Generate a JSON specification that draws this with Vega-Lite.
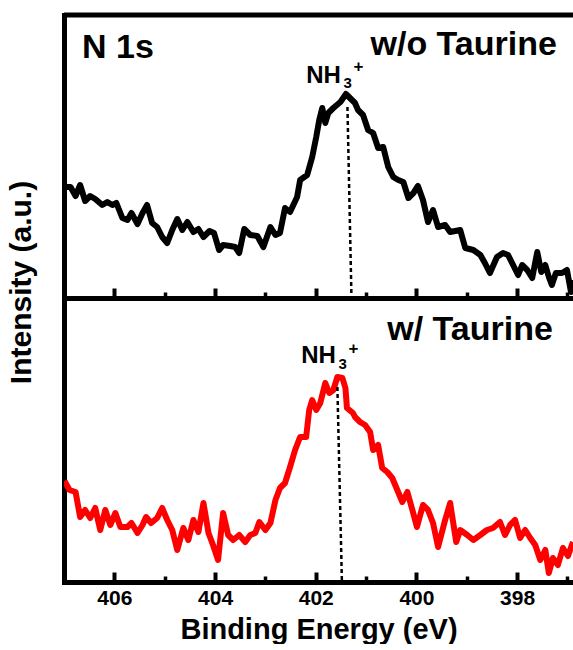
{
  "$schema": "https://vega.github.io/schema/vega-lite/v6.json",
  "padding": {"left": 6, "top": 12, "right": 0, "bottom": 0},
  "background": "white",
  "spacing": 0,
  "bounds": "flush",
  "config": {"view": {"stroke": null}, "font": "Liberation Sans"},
  "datasets": {
    "wo": [
      {"be":406.99,"i":112},{"be":406.93,"i":111},{"be":406.87,"i":111},{"be":406.77,"i":102},{"be":406.68,"i":113},{"be":406.58,"i":97},{"be":406.48,"i":102},{"be":406.38,"i":99},{"be":406.24,"i":93},{"be":406.14,"i":96},{"be":406.04,"i":93},{"be":405.96,"i":95},{"be":405.84,"i":80},{"be":405.74,"i":78},{"be":405.66,"i":85},{"be":405.54,"i":74},{"be":405.44,"i":85},{"be":405.35,"i":93},{"be":405.25,"i":75},{"be":405.15,"i":71},{"be":405.05,"i":61},{"be":404.95,"i":55},{"be":404.85,"i":68},{"be":404.75,"i":79},{"be":404.65,"i":68},{"be":404.55,"i":76},{"be":404.43,"i":66},{"be":404.33,"i":69},{"be":404.23,"i":61},{"be":404.11,"i":67},{"be":404.02,"i":65},{"be":403.92,"i":48},{"be":403.84,"i":53},{"be":403.70,"i":52},{"be":403.60,"i":51},{"be":403.52,"i":45},{"be":403.42,"i":69},{"be":403.30,"i":63},{"be":403.16,"i":62},{"be":403.04,"i":51},{"be":402.90,"i":71},{"be":402.80,"i":63},{"be":402.71,"i":65},{"be":402.61,"i":90},{"be":402.51,"i":86},{"be":402.37,"i":101},{"be":402.31,"i":118},{"be":402.17,"i":123},{"be":402.07,"i":141},{"be":401.99,"i":161},{"be":401.93,"i":178},{"be":401.87,"i":190},{"be":401.81,"i":175},{"be":401.75,"i":185},{"be":401.65,"i":190},{"be":401.51,"i":196},{"be":401.40,"i":204},{"be":401.28,"i":198},{"be":401.22,"i":195},{"be":401.16,"i":188},{"be":401.06,"i":183},{"be":400.96,"i":168},{"be":400.86,"i":165},{"be":400.76,"i":150},{"be":400.66,"i":151},{"be":400.56,"i":131},{"be":400.46,"i":121},{"be":400.36,"i":118},{"be":400.26,"i":116},{"be":400.16,"i":100},{"be":400.06,"i":105},{"be":399.97,"i":112},{"be":399.87,"i":98},{"be":399.77,"i":76},{"be":399.67,"i":88},{"be":399.57,"i":71},{"be":399.43,"i":73},{"be":399.33,"i":66},{"be":399.13,"i":68},{"be":399.03,"i":50},{"be":398.87,"i":48},{"be":398.73,"i":43},{"be":398.64,"i":35},{"be":398.54,"i":25},{"be":398.40,"i":41},{"be":398.28,"i":45},{"be":398.18,"i":43},{"be":398.08,"i":33},{"be":397.98,"i":23},{"be":397.90,"i":33},{"be":397.80,"i":28},{"be":397.70,"i":20},{"be":397.60,"i":46},{"be":397.52,"i":26},{"be":397.44,"i":33},{"be":397.37,"i":21},{"be":397.31,"i":13},{"be":397.23,"i":25},{"be":397.11,"i":25},{"be":397.01,"i":28},{"be":396.93,"i":6},{"be":396.89,"i":18}
    ],
    "w": [
      {"be":406.99,"i":101},{"be":406.89,"i":92},{"be":406.77,"i":90},{"be":406.68,"i":65},{"be":406.58,"i":72},{"be":406.48,"i":64},{"be":406.38,"i":74},{"be":406.28,"i":52},{"be":406.18,"i":72},{"be":406.08,"i":57},{"be":405.98,"i":69},{"be":405.88,"i":55},{"be":405.74,"i":55},{"be":405.66,"i":59},{"be":405.54,"i":49},{"be":405.44,"i":57},{"be":405.37,"i":65},{"be":405.27,"i":59},{"be":405.15,"i":64},{"be":405.05,"i":74},{"be":404.95,"i":62},{"be":404.85,"i":52},{"be":404.75,"i":32},{"be":404.63,"i":54},{"be":404.53,"i":42},{"be":404.43,"i":62},{"be":404.33,"i":50},{"be":404.23,"i":79},{"be":404.13,"i":49},{"be":404.04,"i":37},{"be":403.94,"i":22},{"be":403.84,"i":69},{"be":403.74,"i":47},{"be":403.64,"i":42},{"be":403.52,"i":47},{"be":403.40,"i":40},{"be":403.30,"i":47},{"be":403.20,"i":49},{"be":403.12,"i":60},{"be":403.00,"i":52},{"be":402.90,"i":59},{"be":402.80,"i":82},{"be":402.71,"i":94},{"be":402.61,"i":99},{"be":402.51,"i":115},{"be":402.41,"i":132},{"be":402.31,"i":145},{"be":402.19,"i":145},{"be":402.13,"i":172},{"be":402.07,"i":182},{"be":401.99,"i":172},{"be":401.91,"i":179},{"be":401.81,"i":199},{"be":401.73,"i":189},{"be":401.65,"i":192},{"be":401.57,"i":205},{"be":401.47,"i":204},{"be":401.41,"i":194},{"be":401.38,"i":174},{"be":401.26,"i":169},{"be":401.22,"i":165},{"be":401.12,"i":160},{"be":401.02,"i":157},{"be":400.92,"i":150},{"be":400.86,"i":132},{"be":400.76,"i":137},{"be":400.68,"i":114},{"be":400.58,"i":110},{"be":400.48,"i":104},{"be":400.38,"i":92},{"be":400.28,"i":80},{"be":400.18,"i":90},{"be":400.08,"i":72},{"be":399.99,"i":55},{"be":399.87,"i":77},{"be":399.77,"i":72},{"be":399.67,"i":59},{"be":399.57,"i":35},{"be":399.43,"i":62},{"be":399.33,"i":79},{"be":399.21,"i":40},{"be":399.13,"i":52},{"be":398.99,"i":47},{"be":398.87,"i":42},{"be":398.73,"i":47},{"be":398.60,"i":52},{"be":398.48,"i":54},{"be":398.34,"i":60},{"be":398.24,"i":47},{"be":398.14,"i":57},{"be":398.04,"i":62},{"be":397.94,"i":44},{"be":397.84,"i":52},{"be":397.74,"i":44},{"be":397.64,"i":37},{"be":397.54,"i":22},{"be":397.44,"i":32},{"be":397.37,"i":9},{"be":397.29,"i":24},{"be":397.19,"i":17},{"be":397.09,"i":34},{"be":396.99,"i":26},{"be":396.89,"i":40}
    ]
  },
  "vconcat": [
    {
      "width": 509,
      "height": 283,
      "layer": [
        {
          "data": {"name": "wo"},
          "mark": {"type": "line", "color": "black", "strokeWidth": 6, "clip": true, "strokeJoin": "round"},
          "encoding": {
            "x": {"field": "be", "type": "quantitative",
              "scale": {"domain": [396.89, 407], "reverse": true, "nice": false, "zero": false},
              "axis": {"orient": "bottom", "values": [397,398,399,400,401,402,403,404,405,406],
                "domain": true, "domainWidth": 5, "domainColor": "black",
                "ticks": true, "tickColor": "black",
                "tickSize": {"condition": {"test": "datum.value % 2 === 0", "value": -10}, "value": -6},
                "tickWidth": {"condition": {"test": "datum.value % 2 === 0", "value": 4}, "value": 3.5},
                "labels": false, "title": null, "grid": false}},
            "y": {"field": "i", "type": "quantitative",
              "scale": {"domain": [0, 283], "nice": false, "zero": false},
              "axis": {"orient": "left", "domain": true, "domainWidth": 5, "domainColor": "black", "domainCap": "square",
                "ticks": false, "labels": false, "grid": false,
                "title": "Intensity (a.u.)", "titleFontSize": 30, "titleFontWeight": "bold", "titleColor": "black",
                "titleFont": "Liberation Sans", "titleX": -34, "titleY": 267, "titleBaseline": "alphabetic", "titleAlign": "center", "titleAngle": 270}}
          }
        },
        {
          "data": {"values": [{}]},
          "mark": {"type": "rule", "color": "black", "strokeWidth": 2.5, "strokeDash": [4, 3]},
          "encoding": {"x": {"datum": 401.37}, "x2": {"datum": 401.29}, "y": {"datum": 191}, "y2": {"datum": 0}}
        },
        {
          "data": {"values": [{}]},
          "mark": {"type": "rule", "color": "black", "strokeWidth": 5},
          "encoding": {"y": {"datum": 283}}
        },
        {
          "data": {"values": [{}]},
          "mark": {"type": "text", "text": "N 1s", "fontSize": 34, "fontWeight": "bold", "align": "left", "baseline": "alphabetic", "color": "black"},
          "encoding": {"x": {"datum": 406.64}, "y": {"datum": 240}}
        },
        {
          "data": {"values": [{}]},
          "mark": {"type": "text", "text": "w/o Taurine", "fontSize": 34, "fontWeight": "bold", "align": "right", "baseline": "alphabetic", "color": "black"},
          "encoding": {"x": {"datum": 397.21}, "y": {"datum": 243}}
        },
        {
          "data": {"values": [{}]},
          "mark": {"type": "text", "text": "NH", "fontSize": 24, "fontWeight": "bold", "align": "left", "baseline": "alphabetic", "color": "black"},
          "encoding": {"x": {"datum": 402.19}, "y": {"datum": 215}}
        },
        {
          "data": {"values": [{}]},
          "mark": {"type": "text", "text": "3", "fontSize": 15, "fontWeight": "bold", "align": "left", "baseline": "alphabetic", "color": "black"},
          "encoding": {"x": {"datum": 401.45}, "y": {"datum": 210}}
        },
        {
          "data": {"values": [{}]},
          "mark": {"type": "text", "text": "+", "fontSize": 17, "fontWeight": "bold", "align": "left", "baseline": "alphabetic", "color": "black"},
          "encoding": {"x": {"datum": 401.25}, "y": {"datum": 226}}
        }
      ]
    },
    {
      "width": 509,
      "height": 284,
      "layer": [
        {
          "data": {"name": "w"},
          "mark": {"type": "line", "color": "#ff0000", "strokeWidth": 6, "clip": true, "strokeJoin": "round"},
          "encoding": {
            "x": {"field": "be", "type": "quantitative",
              "scale": {"domain": [396.89, 407], "reverse": true, "nice": false, "zero": false},
              "axis": {"orient": "bottom", "values": [397,398,399,400,401,402,403,404,405,406],
                "domain": true, "domainWidth": 5, "domainColor": "black",
                "ticks": true, "tickColor": "black",
                "tickSize": {"condition": {"test": "datum.value % 2 === 0", "value": -10}, "value": -6},
                "tickWidth": {"condition": {"test": "datum.value % 2 === 0", "value": 4}, "value": 3.5},
                "labels": true, "labelExpr": "datum.value % 2 === 0 ? datum.label : ''",
                "labelOverlap": false, "labelFontSize": 21, "labelFontWeight": "bold", "labelColor": "black",
                "labelFont": "Liberation Sans", "labelPadding": 15,
                "title": "Binding Energy (eV)", "titleFontSize": 29, "titleFontWeight": "bold", "titleColor": "black",
                "titleFont": "Liberation Sans", "titlePadding": 3, "grid": false}},
            "y": {"field": "i", "type": "quantitative",
              "scale": {"domain": [0, 284], "nice": false, "zero": false},
              "axis": {"orient": "left", "domain": true, "domainWidth": 5, "domainColor": "black", "domainCap": "square",
                "ticks": false, "labels": false, "grid": false, "title": null}}
          }
        },
        {
          "data": {"values": [{}]},
          "mark": {"type": "rule", "color": "black", "strokeWidth": 2.5, "strokeDash": [4, 3]},
          "encoding": {"x": {"datum": 401.57}, "x2": {"datum": 401.48}, "y": {"datum": 195}, "y2": {"datum": 0}}
        },
        {
          "data": {"values": [{}]},
          "mark": {"type": "text", "text": "w/ Taurine", "fontSize": 34, "fontWeight": "bold", "align": "right", "baseline": "alphabetic", "color": "black"},
          "encoding": {"x": {"datum": 397.29}, "y": {"datum": 242}}
        },
        {
          "data": {"values": [{}]},
          "mark": {"type": "text", "text": "NH", "fontSize": 24, "fontWeight": "bold", "align": "left", "baseline": "alphabetic", "color": "black"},
          "encoding": {"x": {"datum": 402.29}, "y": {"datum": 219}}
        },
        {
          "data": {"values": [{}]},
          "mark": {"type": "text", "text": "3", "fontSize": 15, "fontWeight": "bold", "align": "left", "baseline": "alphabetic", "color": "black"},
          "encoding": {"x": {"datum": 401.55}, "y": {"datum": 213}}
        },
        {
          "data": {"values": [{}]},
          "mark": {"type": "text", "text": "+", "fontSize": 17, "fontWeight": "bold", "align": "left", "baseline": "alphabetic", "color": "black"},
          "encoding": {"x": {"datum": 401.35}, "y": {"datum": 228}}
        }
      ]
    }
  ]
}
